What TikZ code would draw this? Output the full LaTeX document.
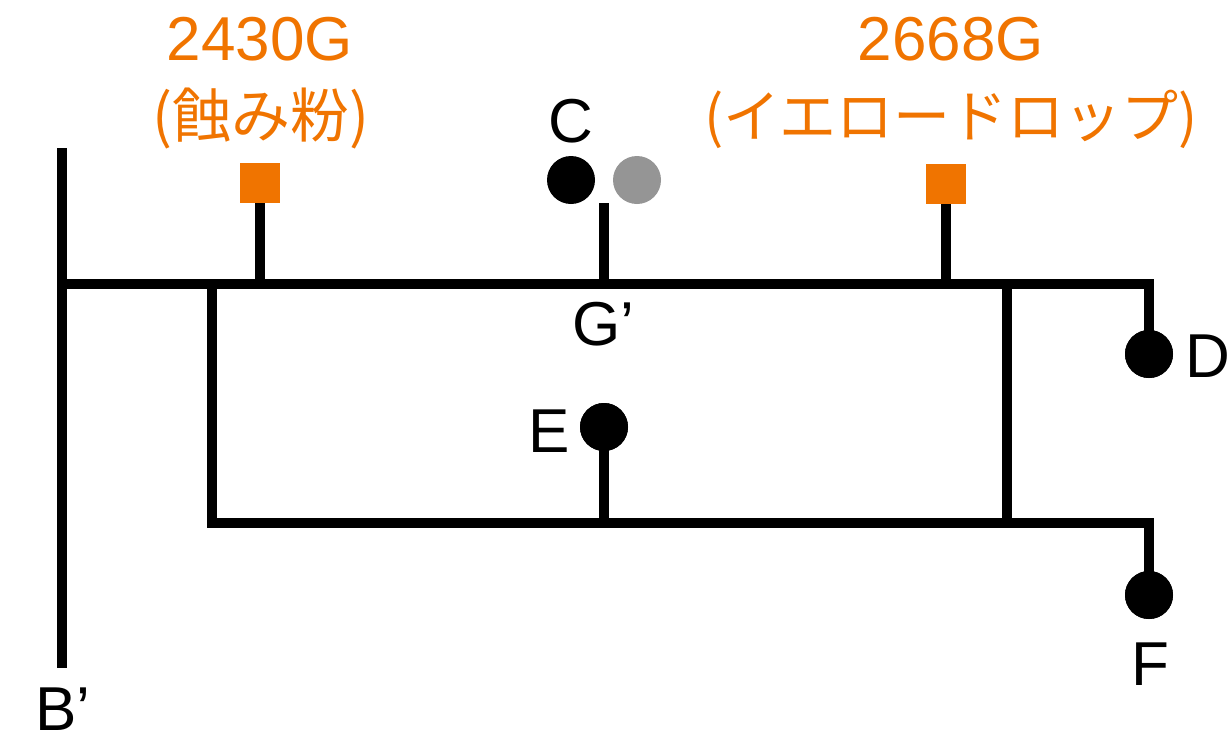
\documentclass[tikz,border=0pt]{standalone}
\usepackage{fontspec}
\setmainfont{Liberation Sans}
\newfontfamily\jpfont{Noto Sans CJK JP}
\definecolor{orng}{HTML}{F07400}
\definecolor{gry}{HTML}{959595}
\begin{document}
\begin{tikzpicture}[x=1pt,y=-1pt,
 wire/.style={line width=10pt},
 dot/.style={circle,fill=black,minimum size=48pt,inner sep=0pt},
 sq/.style={rectangle,fill=orng,minimum size=40pt,inner sep=0pt},
 lbl/.style={font=\fontsize{62}{62}\selectfont,inner sep=0pt,anchor=base},
 jlbl/.style={font=\jpfont\fontsize{59}{59}\selectfont,inner sep=0pt,anchor=base,text=orng},
 olbl/.style={lbl,text=orng}]
\useasboundingbox (0,0) rectangle (1229,742);
% junction coordinates
\coordinate (Btop) at (62,148);
\coordinate (Bbot) at (62,668);
\coordinate (Mleft) at (62,284);
\coordinate (Mright) at (1149,284);
\coordinate (Iltop) at (212,284);
\coordinate (Ilbot) at (212,523);
\coordinate (Bright) at (1149,523);
\coordinate (Irtop) at (1007,284);
\coordinate (Irbot) at (1007,523);
\coordinate (Ctop) at (604,203);
\coordinate (Cbot) at (604,284);
\coordinate (Ebot) at (604,523);
% nodes
\node[sq] (S1) at (260,183) {};
\node[sq] (S2) at (946,184) {};
\node[dot] (C) at (571,180) {};
\node[dot,fill=gry] (C2) at (637,180) {};
\node[dot] (E) at (604,427) {};
\node[dot] (D) at (1149,354) {};
\node[dot] (F) at (1149,595) {};
% wires
\draw[wire] (Btop) -- (Bbot);
\draw[wire] (Mleft) -- (Mright) -- (D.center);
\draw[wire] (Iltop) -- (Ilbot) -- (Bright) -- (F.center);
\draw[wire] (Irtop) -- (Irbot);
\draw[wire] (S1.south) -- (S1.south |- Mleft);
\draw[wire] (S2.south) -- (S2.south |- Mleft);
\draw[wire] (Ctop) -- (Cbot);
\draw[wire] (E.center) -- (Ebot);
% redraw dots on top
\node[dot] at (D) {};
\node[dot] at (F) {};
\node[dot] at (E) {};
% labels
\node[olbl] (t1) at (260,60) {2430G};
\node[jlbl] (j1) at (261,137) {(蝕み粉)};
\node[olbl] (t2) at (951,60) {2668G};
\node[jlbl,font=\jpfont\fontsize{57}{57}\selectfont] (j2) at (951,137) {(イエロードロップ)};
\node[lbl] (lC) at (571,142) {C};
\node[lbl] (lG) at (603,345) {G’};
\node[lbl] (lE) at (549,452) {E};
\node[lbl] (lD) at (1208,377) {D};
\node[lbl] (lF) at (1150,685) {F};
\node[lbl] (lB) at (63,730) {B’};
\end{tikzpicture}
\end{document}
